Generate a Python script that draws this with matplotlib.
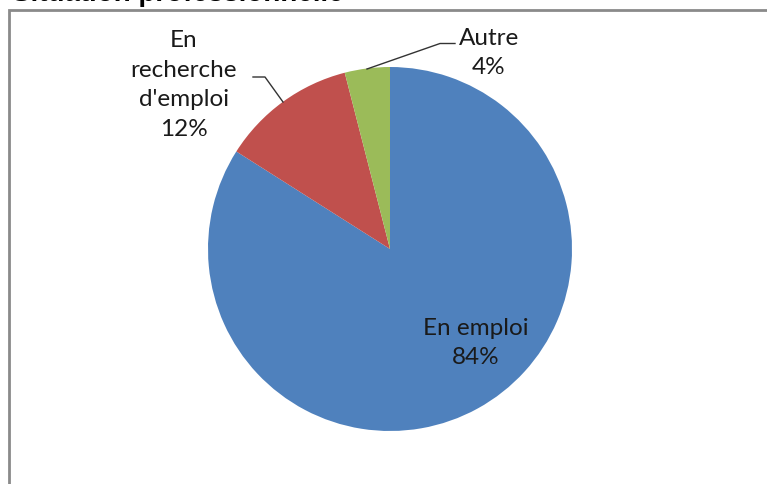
import matplotlib.pyplot as plt
from matplotlib.patches import Rectangle

# Data
labels = ["En emploi", "En\nrecherche\nd'emploi", "Autre"]
values = [84, 12, 4]
colors = ["#4F81BD", "#C0504D", "#9BBB59"]
title = "Situation professionnelle"

W, H = 767, 484
fig = plt.figure(figsize=(W / 100, H / 100), dpi=100)
fig.patch.set_facecolor("white")

# chart border (cropped screenshot: runs off right and bottom)
fig.patches.append(Rectangle((9 / W, -0.1), 1.2, 1.1 - 9.5 / H, transform=fig.transFigure,
                             fill=False, edgecolor="#8a8a8a", linewidth=2))

# title, cut off by the top edge
fig.text(12 / W, 1 - 1 / H, title, fontsize=20, fontweight="bold", family="Liberation Sans",
         ha="left", va="baseline", color="black")

# pie axes: center (390, 249), radius 182 px
cx, cy, r = 390, 249, 182
ax = fig.add_axes([(cx - r) / W, (H - cy - r) / H, 2 * r / W, 2 * r / H])
ax.pie(values, colors=colors, startangle=90, counterclock=False, radius=1,
       wedgeprops=dict(linewidth=0))
ax.set_xlim(-1, 1)
ax.set_ylim(-1, 1)
ax.set_aspect("equal")
ax.axis("off")


def px(x, y):
    return (x - cx) / r, (cy - y) / r


font = dict(family="Lato", fontsize=17.5, color="#1a1a1a", ha="center", va="center",
            linespacing=1.5)

lab_pos = [(476, 343), (184, 85), (489, 53)]
for lab, v, (x, y) in zip(labels, values, lab_pos):
    tx, ty = px(x, y)
    ax.text(tx, ty, "%s\n%d%%" % (lab, v), clip_on=False, **font)

# leader lines
for pts in [[(283, 102), (265, 77), (253, 77)], [(367, 69), (440, 43.5), (455, 43.5)]]:
    xs, ys = zip(*[px(a, b) for a, b in pts])
    ax.plot(xs, ys, color="#333333", linewidth=1, clip_on=False)

fig.savefig("out.png", dpi=100)
